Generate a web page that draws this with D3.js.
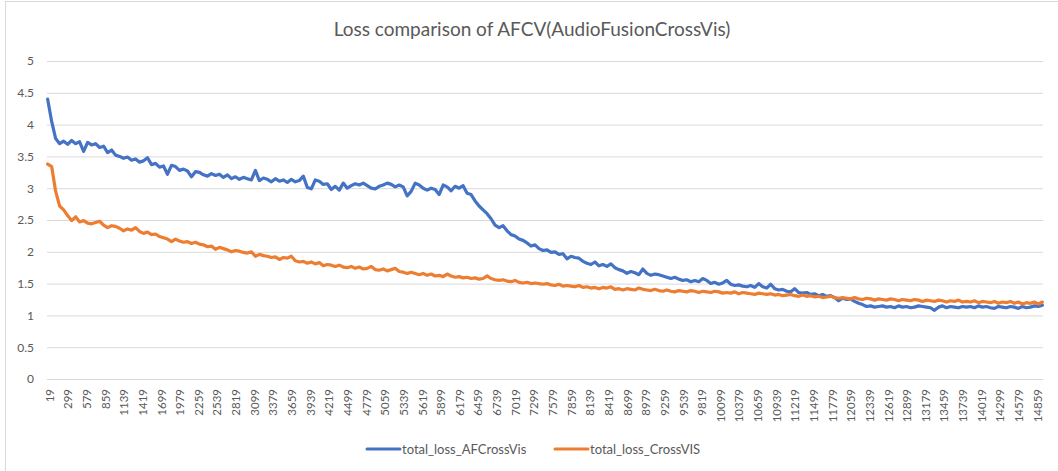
<!DOCTYPE html>
<html>
<head>
<meta charset="utf-8">
<script src="https://cdn.jsdelivr.net/npm/d3@7"></script>
<style>
  html, body { margin: 0; padding: 0; background: #fff; }
  svg { display: block; font-family: Lato, "Open Sans", sans-serif; }
</style>
</head>
<body>
<svg id="chart"></svg>
<script>
// training step of each sample (every 60 steps)
const steps = d3.range(19, 14960, 60);

// total_loss_AFCrossVis (blue)
const afCrossVis = [
  4.40, 4.05, 3.78, 3.70, 3.74, 3.69, 3.75, 3.70, 3.73, 3.58,
  3.72, 3.68, 3.70, 3.64, 3.66, 3.56, 3.60, 3.52, 3.50, 3.47,
  3.49, 3.44, 3.46, 3.41, 3.43, 3.48, 3.37, 3.39, 3.33, 3.35,
  3.22, 3.36, 3.34, 3.28, 3.30, 3.27, 3.18, 3.26, 3.25, 3.21,
  3.19, 3.23, 3.20, 3.22, 3.17, 3.21, 3.15, 3.18, 3.14, 3.17,
  3.15, 3.13, 3.28, 3.12, 3.16, 3.14, 3.10, 3.15, 3.11, 3.13,
  3.09, 3.14, 3.10, 3.12, 3.19, 3.01, 2.99, 3.13, 3.11, 3.06,
  3.07, 2.98, 3.03, 2.97, 3.08, 3.00, 3.04, 3.07, 3.05, 3.08,
  3.04, 3.00, 2.99, 3.03, 3.05, 3.08, 3.06, 3.02, 3.05, 3.02,
  2.88, 2.95, 3.08, 3.05, 3.00, 2.97, 3.00, 2.98, 2.90, 3.05,
  3.02, 2.96, 3.03, 3.00, 3.04, 2.92, 2.90, 2.80, 2.72, 2.66,
  2.60, 2.52, 2.42, 2.38, 2.41, 2.33, 2.27, 2.25, 2.20, 2.18,
  2.14, 2.09, 2.11, 2.05, 2.02, 2.03, 1.99, 2.00, 1.96, 1.97,
  1.89, 1.93, 1.91, 1.90, 1.85, 1.82, 1.80, 1.84, 1.78, 1.80,
  1.77, 1.81, 1.75, 1.72, 1.70, 1.66, 1.69, 1.67, 1.64, 1.73,
  1.66, 1.63, 1.65, 1.64, 1.62, 1.60, 1.58, 1.60, 1.57, 1.55,
  1.56, 1.53, 1.55, 1.53, 1.58, 1.55, 1.50, 1.52, 1.49, 1.51,
  1.55, 1.49, 1.47, 1.48, 1.46, 1.45, 1.47, 1.44, 1.50, 1.45,
  1.43, 1.49, 1.42, 1.40, 1.41, 1.38, 1.37, 1.42, 1.36, 1.35,
  1.36, 1.33, 1.34, 1.31, 1.33, 1.30, 1.31, 1.28, 1.23, 1.27,
  1.25, 1.26, 1.22, 1.19, 1.17, 1.14, 1.15, 1.13, 1.14, 1.15,
  1.13, 1.14, 1.12, 1.15, 1.13, 1.14, 1.12, 1.13, 1.15, 1.14,
  1.13, 1.12, 1.08, 1.13, 1.15, 1.12, 1.14, 1.13, 1.12, 1.14,
  1.13, 1.14, 1.12, 1.15, 1.13, 1.14, 1.12, 1.11, 1.14, 1.13,
  1.12, 1.14, 1.13, 1.11, 1.14, 1.12, 1.13, 1.15, 1.14, 1.16
];

// total_loss_CrossVIS (orange)
const crossVis = [
  3.38, 3.34, 2.95, 2.72, 2.66, 2.57, 2.49, 2.55, 2.47, 2.49,
  2.45, 2.44, 2.46, 2.48, 2.42, 2.38, 2.41, 2.40, 2.37, 2.33,
  2.36, 2.34, 2.38, 2.32, 2.29, 2.31, 2.27, 2.28, 2.24, 2.22,
  2.20, 2.16, 2.20, 2.17, 2.15, 2.16, 2.13, 2.15, 2.12, 2.11,
  2.08, 2.09, 2.04, 2.07, 2.05, 2.03, 2.00, 2.02, 2.01, 1.99,
  1.98, 2.00, 1.93, 1.96, 1.94, 1.93, 1.91, 1.92, 1.88, 1.91,
  1.90, 1.93, 1.86, 1.84, 1.85, 1.82, 1.84, 1.81, 1.83, 1.78,
  1.80, 1.79, 1.77, 1.79, 1.76, 1.75, 1.77, 1.74, 1.76, 1.73,
  1.74, 1.77, 1.72, 1.71, 1.73, 1.70, 1.72, 1.74, 1.69, 1.68,
  1.66, 1.68, 1.66, 1.64, 1.66, 1.63, 1.65, 1.62, 1.63, 1.61,
  1.65, 1.62, 1.60, 1.61, 1.59, 1.60, 1.58, 1.59, 1.57, 1.58,
  1.62, 1.58, 1.56, 1.55, 1.56, 1.54, 1.53, 1.55, 1.52, 1.51,
  1.52, 1.50, 1.51, 1.50, 1.49, 1.50, 1.48, 1.47, 1.49, 1.46,
  1.47, 1.46, 1.45, 1.47, 1.44, 1.45, 1.43, 1.44, 1.42, 1.44,
  1.43, 1.45, 1.41, 1.42, 1.40, 1.42, 1.41, 1.40, 1.43, 1.41,
  1.40, 1.39, 1.41, 1.39, 1.38, 1.40, 1.38, 1.37, 1.39, 1.38,
  1.37, 1.39, 1.38, 1.36, 1.38, 1.37, 1.36, 1.38, 1.37, 1.35,
  1.36, 1.35, 1.37, 1.34, 1.36, 1.35, 1.34, 1.33, 1.35, 1.34,
  1.33, 1.34, 1.32, 1.33, 1.31, 1.32, 1.33, 1.31, 1.30, 1.32,
  1.30, 1.31, 1.29, 1.30, 1.28, 1.29, 1.30, 1.28, 1.27, 1.28,
  1.27, 1.26, 1.28, 1.26, 1.25, 1.27, 1.26, 1.24, 1.26, 1.25,
  1.24, 1.26, 1.25, 1.23, 1.25, 1.24, 1.23, 1.25, 1.24, 1.22,
  1.24, 1.23, 1.22, 1.24, 1.23, 1.21, 1.23, 1.22, 1.24, 1.21,
  1.22, 1.21, 1.23, 1.20, 1.22, 1.21, 1.20, 1.22, 1.19, 1.21,
  1.20, 1.22, 1.19, 1.21, 1.18, 1.20, 1.19, 1.21, 1.18, 1.21
];

const xTickLabels = [
  19, 299, 579, 859, 1139, 1419, 1699, 1979, 2259, 2539, 2819, 3099, 3379, 3659,
  3939, 4219, 4499, 4779, 5059, 5339, 5619, 5899, 6179, 6459, 6739, 7019, 7299,
  7579, 7859, 8139, 8419, 8699, 8979, 9259, 9539, 9819, 10099, 10379, 10659,
  10939, 11219, 11499, 11779, 12059, 12339, 12619, 12899, 13179, 13459, 13739,
  14019, 14299, 14579, 14859
];
const yTicks = [0, 0.5, 1, 1.5, 2, 2.5, 3, 3.5, 4, 4.5, 5];

const seriesNames = ["total_loss_AFCrossVis", "total_loss_CrossVIS"];
const seriesColors = ["#4472C4", "#ED7D31"];

const width = 1058, height = 471;
const marginLeft = 47, marginRight = 15, marginTop = 61, marginBottom = 92;
const textColor = "#595959", gridColor = "#d9d9d9";

const svg = d3.select("#chart")
  .attr("width", width)
  .attr("height", height)
  .attr("viewBox", [0, 0, width, height]);

// chart frame (only left and top edges fall inside the picture)
svg.append("rect")
  .attr("x", 5.5).attr("y", 1.5)
  .attr("width", width).attr("height", height)
  .attr("fill", "none")
  .attr("stroke", gridColor);

const x = d3.scaleLinear()
  .domain([9, 14969])
  .range([marginLeft, width - marginRight]);

const y = d3.scaleLinear()
  .domain([0, 5])
  .range([height - marginBottom, marginTop]);

// title
svg.append("text")
  .attr("x", 532)
  .attr("y", 36)
  .attr("text-anchor", "middle")
  .attr("fill", textColor)
  .style("font-size", "19px")
  .text("Loss comparison of AFCV(AudioFusionCrossVis)");

// y axis with grid lines
svg.append("g")
  .attr("transform", `translate(${marginLeft},0)`)
  .call(d3.axisLeft(y).tickValues(yTicks).tickFormat(d3.format("~g"))
    .tickSize(-(width - marginLeft - marginRight)).tickPadding(13))
  .call(g => g.select(".domain").remove())
  .call(g => g.selectAll(".tick line").attr("stroke", gridColor))
  .call(g => g.selectAll(".tick text")
    .attr("fill", textColor)
    .style("font-size", "12px")
    .style("font-family", "Lato, sans-serif"));

// x axis, labels turned upright
svg.append("g")
  .attr("transform", `translate(0,${height - marginBottom})`)
  .call(d3.axisBottom(x).tickValues(xTickLabels).tickSize(0).tickFormat(d3.format("d")))
  .call(g => g.select(".domain")
    .attr("stroke", gridColor)
    .attr("d", `M${marginLeft},0.5H${width - marginRight}`))
  .call(g => g.selectAll(".tick text")
    .attr("fill", textColor)
    .style("font-size", "11.5px")
    .style("font-family", "Lato, sans-serif")
    .attr("text-anchor", "end")
    .attr("transform", "rotate(-90)")
    .attr("x", -10)
    .attr("y", 1.5)
    .attr("dy", "0.35em"));

// lines
const line = d3.line()
  .x(d => x(d[0]))
  .y(d => y(d[1]));

[afCrossVis, crossVis].forEach((vals, i) => {
  svg.append("path")
    .datum(steps.map((s, j) => [s, vals[j]]))
    .attr("fill", "none")
    .attr("stroke", seriesColors[i])
    .attr("stroke-width", 3.2)
    .attr("stroke-linejoin", "round")
    .attr("stroke-linecap", "round")
    .attr("d", line);
});

// legend
const legendX = [367, 555];
const legend = svg.append("g").attr("transform", "translate(0,449)");
seriesNames.forEach((name, i) => {
  legend.append("line")
    .attr("x1", legendX[i]).attr("x2", legendX[i] + 33)
    .attr("y1", 0).attr("y2", 0)
    .attr("stroke", seriesColors[i])
    .attr("stroke-width", 3)
    .attr("stroke-linecap", "round");
  legend.append("text")
    .attr("x", legendX[i] + 35)
    .attr("dy", "0.35em")
    .attr("fill", textColor)
    .style("font-size", "13px")
    .text(name);
});
</script>
</body>
</html>
